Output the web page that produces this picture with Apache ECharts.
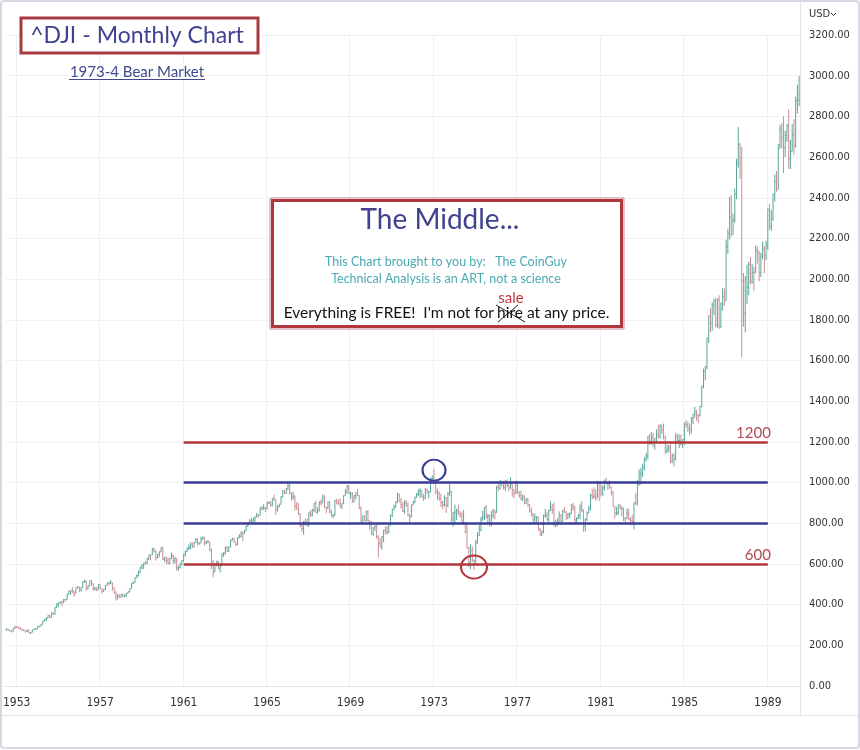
<!DOCTYPE html>
<html>
<head>
<meta charset="utf-8">
<title>^DJI - Monthly Chart</title>
<script src="https://cdn.jsdelivr.net/npm/echarts@6/dist/echarts.min.js"></script>
<style>
    html, body {margin: 0; padding: 0; background: #fff;}
    #DjiChart {width: 860px; height: 750px;}
</style>
</head>
<body>
<div id="DjiChart"></div>
<script>
// monthly bars, Jul 1952 .. Jul 1990 (open = previous close)
var startYear = 1952;
var startMonth = 7;
var firstOpen = 274;

var closes = [
    279.6, 275.0, 270.6, 269.2, 283.7, 291.9,
    289.8, 284.3, 279.9, 274.8, 272.3, 268.3, 275.4, 261.2, 264.0, 276.0, 281.4, 280.9,
    292.4, 294.5, 303.5, 319.3, 327.5, 333.5, 347.9, 335.8, 360.5, 352.1, 386.8, 404.4,
    408.8, 411.9, 409.7, 425.7, 424.9, 451.4, 465.9, 468.2, 466.6, 454.9, 483.3, 488.4,
    470.7, 483.7, 511.8, 516.1, 478.1, 492.8, 517.8, 502.0, 475.3, 479.9, 472.8, 499.5,
    479.2, 464.6, 474.8, 494.4, 504.9, 503.3, 508.5, 484.4, 456.3, 441.0, 449.9, 435.7,
    450.0, 439.9, 446.8, 455.9, 462.7, 478.2, 503.0, 508.6, 532.1, 543.2, 557.5, 583.7,
    594.0, 603.5, 601.7, 623.8, 643.8, 643.6, 674.9, 664.4, 631.7, 646.6, 659.2, 679.4,
    622.6, 630.1, 616.6, 601.7, 625.5, 640.6, 616.7, 626.0, 580.1, 580.4, 597.2, 615.9,
    648.2, 662.1, 676.6, 678.7, 696.7, 684.0, 705.4, 719.9, 701.2, 703.9, 721.6, 731.1,
    700.0, 708.1, 707.0, 665.3, 613.4, 561.3, 597.9, 609.2, 579.0, 589.8, 649.3, 652.1,
    682.9, 662.9, 682.5, 717.7, 727.0, 706.9, 695.4, 729.3, 732.8, 755.2, 750.5, 763.0,
    785.3, 800.1, 813.3, 810.8, 820.6, 831.5, 841.1, 838.5, 875.4, 873.1, 875.4, 874.1,
    902.9, 903.5, 889.1, 922.3, 918.0, 868.0, 881.7, 893.1, 930.6, 960.8, 946.7, 969.3,
    983.5, 951.9, 924.8, 933.7, 884.1, 870.1, 847.4, 788.4, 774.2, 807.1, 791.6, 785.7,
    849.9, 839.4, 866.0, 897.1, 852.6, 860.3, 904.2, 901.3, 926.7, 879.7, 875.8, 905.1,
    855.5, 840.5, 840.7, 912.2, 899.0, 897.8, 883.0, 896.0, 935.8, 952.4, 985.1, 943.8,
    946.1, 905.2, 935.5, 950.2, 937.6, 873.2, 815.5, 836.7, 813.1, 856.0, 812.3, 800.4,
    744.1, 777.6, 785.6, 736.1, 700.4, 683.5, 734.1, 764.6, 760.7, 755.6, 794.1, 838.9,
    868.5, 878.8, 904.4, 941.8, 907.8, 891.1, 858.4, 898.1, 887.2, 839.0, 831.3, 890.2,
    902.2, 928.1, 940.7, 954.2, 960.7, 929.0, 924.7, 963.7, 953.3, 955.5, 1018.2, 1020.0,
    999.0, 955.1, 951.0, 921.4, 901.4, 891.7, 926.4, 887.6, 947.1, 956.6, 822.3, 850.9,
    855.6, 860.5, 846.7, 836.8, 802.2, 802.4, 757.4, 678.6, 607.9, 665.5, 618.7, 616.2,
    703.7, 739.1, 768.2, 821.3, 832.3, 879.0, 831.5, 835.3, 793.9, 836.0, 860.7, 852.4,
    975.3, 972.6, 999.5, 996.9, 975.2, 1002.8, 984.6, 973.7, 990.2, 964.9, 947.2, 1004.7,
    954.4, 936.4, 919.1, 926.9, 898.7, 916.3, 890.1, 861.5, 847.1, 818.4, 829.7, 831.2,
    769.9, 742.1, 757.4, 837.3, 840.6, 819.0, 862.3, 876.8, 865.8, 792.5, 799.0, 805.0,
    839.2, 808.8, 862.2, 854.9, 822.3, 842.0, 846.4, 887.6, 878.6, 815.7, 822.4, 838.7,
    875.9, 863.1, 785.8, 817.1, 850.9, 867.9, 935.3, 932.6, 932.4, 924.5, 993.3, 964.0,
    947.3, 974.6, 1003.9, 997.8, 991.8, 976.9, 952.3, 881.5, 850.0, 852.6, 889.0, 875.0,
    871.1, 824.4, 822.8, 848.4, 819.5, 811.9, 808.6, 901.3, 896.3, 991.7, 1039.3, 1046.5,
    1075.7, 1112.6, 1130.0, 1226.2, 1200.0, 1222.0, 1199.2, 1216.2, 1233.1, 1225.2, 1276.0, 1258.6,
    1220.6, 1154.6, 1164.9, 1170.8, 1104.9, 1132.4, 1115.3, 1224.4, 1206.7, 1207.4, 1188.9, 1211.6,
    1286.8, 1284.0, 1266.8, 1258.1, 1315.4, 1335.5, 1347.5, 1334.0, 1328.6, 1374.3, 1472.1, 1546.7,
    1571.0, 1709.1, 1818.6, 1784.0, 1876.7, 1892.7, 1775.3, 1898.3, 1767.6, 1877.8, 1914.2, 1896.0,
    2158.0, 2224.0, 2304.7, 2286.4, 2291.6, 2418.5, 2572.1, 2663.0, 2596.3, 1993.5, 1833.6, 1938.8,
    1958.2, 2071.6, 1988.1, 2032.3, 2031.1, 2141.7, 2128.7, 2031.7, 2112.9, 2148.7, 2114.5, 2168.6,
    2342.3, 2258.4, 2293.6, 2418.8, 2480.2, 2440.1, 2660.7, 2737.3, 2692.8, 2645.1, 2706.3, 2753.2,
    2590.5, 2627.3, 2707.2, 2656.8, 2876.7, 2880.7, 2905.2
];

var highs = [
    281, 281, 276, 272, 284, 293,
    294, 291, 291, 280, 278, 272, 276, 276, 265, 276, 282, 284,
    293, 296, 304, 319, 328, 337, 348, 350, 361, 363, 387, 405,
    410, 413, 419, 428, 426, 452, 468, 469, 487, 462, 483, 489,
    486, 485, 514, 521, 518, 494, 518, 521, 504, 487, 487, 500,
    500, 480, 476, 495, 506, 514, 521, 509, 485, 466, 450, 450,
    451, 455, 450, 457, 464, 479, 505, 513, 533, 549, 568, 584,
    598, 604, 613, 630, 646, 646, 679, 678, 663, 648, 661, 681,
    686, 635, 635, 632, 628, 656, 645, 636, 628, 593, 606, 618,
    650, 666, 680, 696, 706, 706, 706, 726, 726, 706, 734, 735,
    727, 714, 718, 709, 677, 617, 600, 616, 615, 598, 652, 658,
    684, 688, 685, 719, 727, 727, 710, 731, 747, 760, 759, 767,
    789, 802, 820, 828, 827, 834, 851, 844, 878, 884, 893, 878,
    903, 906, 908, 923, 940, 918, 890, 896, 932, 962, 962, 972,
    1001, 995, 950, 955, 935, 904, 899, 850, 800, 811, 822, 824,
    853, 865, 871, 898, 910, 879, 908, 918, 943, 938, 880, 907,
    908, 866, 843, 913, 920, 917, 923, 899, 937, 968, 988, 985,
    955, 953, 937, 951, 968, 934, 882, 838, 838, 862, 864, 813,
    811, 780, 792, 793, 740, 726, 735, 768, 784, 787, 795, 842,
    870, 891, 907, 951, 945, 924, 905, 913, 915, 903, 846, 891,
    910, 931, 950, 968, 972, 962, 944, 973, 970, 958, 1025, 1036,
    1067, 1004, 970, 956, 945, 910, 938, 929, 953, 997, 958, 855,
    892, 871, 892, 860, 853, 866, 805, 797, 684, 697, 687, 620,
    717, 756, 791, 830, 862, 880, 890, 846, 843, 860, 870, 866,
    985, 996, 1012, 1011, 1008, 1012, 1015, 993, 1026, 991, 966, 1009,
    1004, 958, 960, 941, 938, 925, 924, 894, 877, 850, 847, 834,
    831, 778, 766, 843, 870, 855, 867, 908, 895, 902, 817, 825,
    859, 845, 866, 878, 860, 850, 853, 894, 899, 885, 830, 846,
    893, 910, 868, 823, 858, 886, 945, 967, 977, 967, 1009, 1000,
    1004, 985, 1015, 1024, 1000, 1011, 978, 958, 884, 881, 892, 893,
    886, 877, 830, 874, 870, 828, 841, 901, 946, 1012, 1064, 1072,
    1093, 1126, 1145, 1227, 1238, 1249, 1244, 1217, 1261, 1285, 1287, 1285,
    1290, 1231, 1187, 1185, 1189, 1142, 1145, 1245, 1240, 1237, 1237, 1214,
    1296, 1307, 1300, 1290, 1322, 1338, 1372, 1357, 1336, 1377, 1476, 1560,
    1571, 1713, 1822, 1856, 1884, 1903, 1910, 1905, 1920, 1886, 1955, 1955,
    2194, 2248, 2405, 2415, 2322, 2445, 2592, 2747, 2669, 2650, 2030, 2015,
    2070, 2086, 2110, 2075, 2060, 2165, 2160, 2140, 2130, 2184, 2163, 2189,
    2347, 2370, 2340, 2419, 2515, 2531, 2661, 2758, 2766, 2800, 2730, 2763,
    2834, 2685, 2762, 2786, 2897, 2956, 2999
];

var lows = [
    273, 273, 268, 263, 269, 281,
    286, 282, 278, 270, 270, 262, 266, 260, 255, 264, 274, 278,
    279, 289, 293, 304, 319, 319, 334, 334, 335, 350, 352, 382,
    388, 405, 392, 410, 415, 424, 453, 448, 455, 438, 455, 478,
    462, 465, 484, 506, 468, 476, 492, 494, 468, 470, 466, 473,
    477, 454, 465, 472, 494, 494, 501, 469, 455, 420, 425, 433,
    436, 436, 440, 437, 454, 461, 477, 501, 507, 530, 537, 554,
    575, 575, 597, 600, 620, 618, 647, 656, 617, 627, 633, 658,
    620, 611, 599, 598, 599, 624, 601, 601, 567, 566, 579, 594,
    610, 637, 660, 668, 672, 679, 680, 703, 690, 694, 702, 718,
    690, 697, 701, 664, 576, 535, 560, 588, 576, 558, 590, 634,
    647, 659, 659, 685, 713, 705, 688, 692, 727, 731, 711, 747,
    764, 782, 798, 804, 806, 805, 829, 826, 838, 863, 866, 855,
    868, 894, 883, 883, 910, 840, 857, 878, 893, 927, 943, 944,
    964, 940, 911, 916, 863, 868, 840, 780, 758, 744, 790, 785,
    786, 831, 834, 855, 852, 848, 859, 887, 898, 876, 849, 869,
    849, 831, 825, 837, 892, 891, 877, 869, 896, 936, 946, 943,
    921, 899, 904, 917, 933, 870, 801, 800, 810, 809, 807, 769,
    744, 739, 762, 724, 631, 682, 669, 707, 745, 743, 751, 788,
    831, 864, 878, 900, 905, 872, 855, 846, 881, 835, 797, 830,
    889, 899, 925, 935, 925, 926, 910, 918, 945, 921, 952, 1000,
    992, 941, 915, 910, 880, 867, 882, 850, 880, 934, 806, 783,
    804, 816, 841, 829, 795, 792, 750, 676, 584, 573, 612, 570,
    605, 700, 739, 760, 812, 817, 823, 798, 784, 784, 824, 819,
    852, 958, 966, 980, 965, 960, 977, 956, 970, 930, 924, 946,
    944, 925, 911, 910, 892, 896, 881, 852, 834, 801, 800, 806,
    763, 740, 737, 750, 827, 812, 805, 860, 846, 784, 779, 786,
    800, 803, 807, 851, 817, 822, 825, 845, 860, 796, 796, 820,
    820, 854, 759, 760, 811, 849, 864, 917, 920, 910, 925, 908,
    931, 935, 960, 992, 963, 970, 937, 881, 824, 838, 841, 868,
    835, 811, 795, 822, 814, 788, 796, 770, 891, 887, 985, 990,
    1027, 1059, 1103, 1114, 1185, 1186, 1175, 1162, 1198, 1218, 1215, 1238,
    1212, 1141, 1144, 1148, 1094, 1095, 1079, 1108, 1190, 1170, 1182, 1170,
    1184, 1268, 1249, 1233, 1242, 1288, 1318, 1304, 1291, 1325, 1370, 1463,
    1502, 1556, 1686, 1739, 1746, 1823, 1763, 1760, 1755, 1760, 1845, 1868,
    1896, 2124, 2195, 2209, 2216, 2277, 2393, 2548, 2492, 1616, 1766, 1738,
    1879, 1921, 1975, 1977, 1941, 2037, 2077, 1989, 2010, 2098, 2028, 2093,
    2144, 2242, 2238, 2288, 2381, 2430, 2440, 2640, 2644, 2520, 2600, 2676,
    2543, 2541, 2628, 2610, 2646, 2815, 2850
];

// years that get an axis label (January bar)
var labelYears = [1953, 1957, 1961, 1965, 1969, 1973, 1977, 1981, 1985, 1989];

// drawn levels
var redLevels = [1200, 600];
var blueLevels = [1000, 800];
var levelFrom = '1961-01';
var levelTo = '1989-01';

var upColor = '#5aa69c';
var downColor = '#c98d91';
var red = '#b4363d';
var blue = '#383c98';
var fontCal = 'Lato, "Open Sans", sans-serif';
var fontAxis = '"Liberation Sans Narrow", "DejaVu Sans Condensed", "Liberation Sans", sans-serif';

var months = [];
var bars = [];
for (var i = 0; i < closes.length; i++) {
    var m = startMonth - 1 + i;
    var yr = startYear + Math.floor(m / 12);
    var mm = m % 12 + 1;
    months.push(yr + '-' + (mm < 10 ? '0' + mm : mm));
    var open = i === 0 ? firstOpen : closes[i - 1];
    bars.push([i, open, closes[i], lows[i], highs[i]]);
}

function isLabelMonth(index, value) {
    return value.slice(5) === '01' && labelYears.indexOf(+value.slice(0, 4)) >= 0;
}

/**
 * OHLC bar: high-low line, open tick left, close tick right
 */
function renderOhlc(params, api) {
    var idx = api.value(0);
    var o = api.value(1), c = api.value(2);
    var lo = Math.min(api.value(3), o, c);
    var hi = Math.max(api.value(4), o, c);
    var pO = api.coord([idx, o]);
    var pC = api.coord([idx, c]);
    var pL = api.coord([idx, lo]);
    var pH = api.coord([idx, hi]);
    var w = api.size([1, 0])[0] * 0.45;
    var style = {stroke: c >= o ? upColor : downColor, lineWidth: 1};
    return {
        type: 'group',
        children: [
            {type: 'line', shape: {x1: pH[0], y1: pH[1], x2: pL[0], y2: pL[1]}, style: style},
            {type: 'line', shape: {x1: pO[0] - w, y1: pO[1], x2: pO[0], y2: pO[1]}, style: style},
            {type: 'line', shape: {x1: pC[0], y1: pC[1], x2: pC[0] + w, y2: pC[1]}, style: style}
        ]
    };
}

function levelLine(value, color, withLabel) {
    return [
        {
            coord: [levelFrom, value],
            lineStyle: {color: color, width: 2.5, type: 'solid'},
            label: withLabel ? {
                show: true, position: 'insideEndTop', formatter: String(value),
                color: '#b04a4e', fontSize: 15, fontFamily: fontCal, distance: [-3, 1]
            } : {show: false}
        },
        {coord: [levelTo, value]}
    ];
}

var markLines = [];
redLevels.forEach(function (v) { markLines.push(levelLine(v, red, true)); });
blueLevels.forEach(function (v) { markLines.push(levelLine(v, blue, false)); });

// annotations drawn on top of the grid
var notes = [
    // frame + axis strip
    {type: 'line', shape: {x1: 800.5, y1: 0, x2: 800.5, y2: 715}, style: {stroke: '#e0e3eb', lineWidth: 1}},
    {type: 'line', shape: {x1: 0, y1: 715.5, x2: 860, y2: 715.5}, style: {stroke: '#e0e3eb', lineWidth: 1}},
    {type: 'rect', shape: {x: 1, y: 1, width: 858, height: 747, r: 3},
        style: {fill: 'none', stroke: '#d6d8e2', lineWidth: 2}},
    {type: 'text', left: 809, top: 9, style: {text: 'USD', fill: '#333', fontSize: 11, fontFamily: fontAxis}},
    {type: 'polyline', shape: {points: [[831, 13], [833.5, 15.5], [836, 13]]},
        style: {stroke: '#333', lineWidth: 1, fill: 'none'}},

    // title box
    {type: 'rect', shape: {x: 21, y: 18, width: 237, height: 35},
        style: {fill: '#fff', stroke: '#a9383f', lineWidth: 3}},
    {type: 'text', x: 137, y: 36, style: {
        text: '^DJI - Monthly Chart', fill: '#3f438f', fontSize: 23, fontFamily: fontCal,
        align: 'center', verticalAlign: 'middle'}},
    {type: 'text', x: 137, y: 72, style: {
        text: '1973-4 Bear Market', fill: '#3f4a8c', fontSize: 15, fontFamily: fontCal,
        align: 'center', verticalAlign: 'middle'}},
    {type: 'line', shape: {x1: 69, y1: 79.5, x2: 205, y2: 79.5}, style: {stroke: '#3f4a8c', lineWidth: 1}},

    // the middle box
    {type: 'rect', shape: {x: 270, y: 198, width: 354, height: 131},
        style: {fill: '#fff', stroke: '#c98a8e', lineWidth: 1}},
    {type: 'rect', shape: {x: 272.5, y: 200.5, width: 349, height: 126},
        style: {fill: '#fff', stroke: '#b0373e', lineWidth: 3}},
    {type: 'text', x: 440, y: 220, style: {
        text: 'The Middle...', fill: '#3f438f', fontSize: 28, fontFamily: fontCal,
        align: 'center', verticalAlign: 'middle'}},
    {type: 'text', x: 446, y: 262, style: {
        text: 'This Chart brought to you by:   The CoinGuy', fill: '#4aa9b2', fontSize: 12.5,
        fontFamily: fontCal, align: 'center', verticalAlign: 'middle'}},
    {type: 'text', x: 446, y: 279, style: {
        text: 'Technical Analysis is an ART, not a science', fill: '#4aa9b2', fontSize: 12.5,
        fontFamily: fontCal, align: 'center', verticalAlign: 'middle'}},
    {type: 'text', x: 494, y: 313, style: {
        text: "Everything is FREE!  I'm not for", fill: '#111', fontSize: 15.5, fontFamily: fontCal,
        align: 'right', verticalAlign: 'middle'}},
    {type: 'text', x: 510, y: 313, style: {
        text: 'hire', fill: '#111', fontSize: 15.5, fontFamily: fontCal,
        align: 'center', verticalAlign: 'middle'}},
    {type: 'line', shape: {x1: 496, y1: 305, x2: 525, y2: 322}, style: {stroke: '#222', lineWidth: 1}},
    {type: 'line', shape: {x1: 498, y1: 322, x2: 518, y2: 305}, style: {stroke: '#222', lineWidth: 1}},
    {type: 'text', x: 511, y: 298, style: {
        text: 'sale', fill: '#c0393f', fontSize: 15, fontFamily: fontCal,
        align: 'center', verticalAlign: 'middle'}},
    {type: 'text', x: 527, y: 313, style: {
        text: 'at any price.', fill: '#111', fontSize: 15.5, fontFamily: fontCal,
        align: 'left', verticalAlign: 'middle'}}
];
notes.forEach(function (el) { el.z = 100; });

var djiChart = echarts.init(document.getElementById('DjiChart'));
djiChart.setOption({
    animation: false,
    backgroundColor: '#fff',
    grid: {left: 0, right: 60, top: 35, bottom: 64},
    xAxis: {
        type: 'category',
        data: months,
        offset: 5,
        axisLine: {lineStyle: {color: '#e0e3eb'}},
        axisTick: {show: false},
        axisLabel: {
            interval: isLabelMonth,
            formatter: function (v) { return v.slice(0, 4); },
            color: '#333', fontSize: 12, fontFamily: fontAxis, margin: 6
        },
        splitLine: {show: true, interval: isLabelMonth, lineStyle: {color: '#eef0f4'}}
    },
    yAxis: {
        type: 'value',
        position: 'right',
        min: 0,
        max: 3200,
        interval: 200,
        axisLine: {show: false},
        axisTick: {show: false},
        axisLabel: {
            formatter: function (v) { return v.toFixed(2); },
            color: '#333', fontSize: 11, fontFamily: fontAxis, margin: 9
        },
        splitLine: {lineStyle: {color: '#eef0f4'}}
    },
    series: [{
        name: '^DJI',
        type: 'custom',
        renderItem: renderOhlc,
        encode: {x: 0, y: [1, 2, 3, 4]},
        data: bars,
        markLine: {
            silent: true,
            symbol: 'none',
            data: markLines
        },
        markPoint: {
            silent: true,
            label: {show: false},
            data: [
                {coord: ['1973-01', 1061], symbol: 'circle', symbolSize: [23, 21],
                    itemStyle: {color: 'rgba(0,0,0,0)', borderColor: blue, borderWidth: 2}},
                {coord: ['1974-12', 585], symbol: 'circle', symbolSize: [26, 23],
                    itemStyle: {color: 'rgba(0,0,0,0)', borderColor: red, borderWidth: 2}}
            ]
        }
    }],
    graphic: notes
});

window.onresize = function () {
    djiChart.resize();
}
</script>
</body>
</html>
